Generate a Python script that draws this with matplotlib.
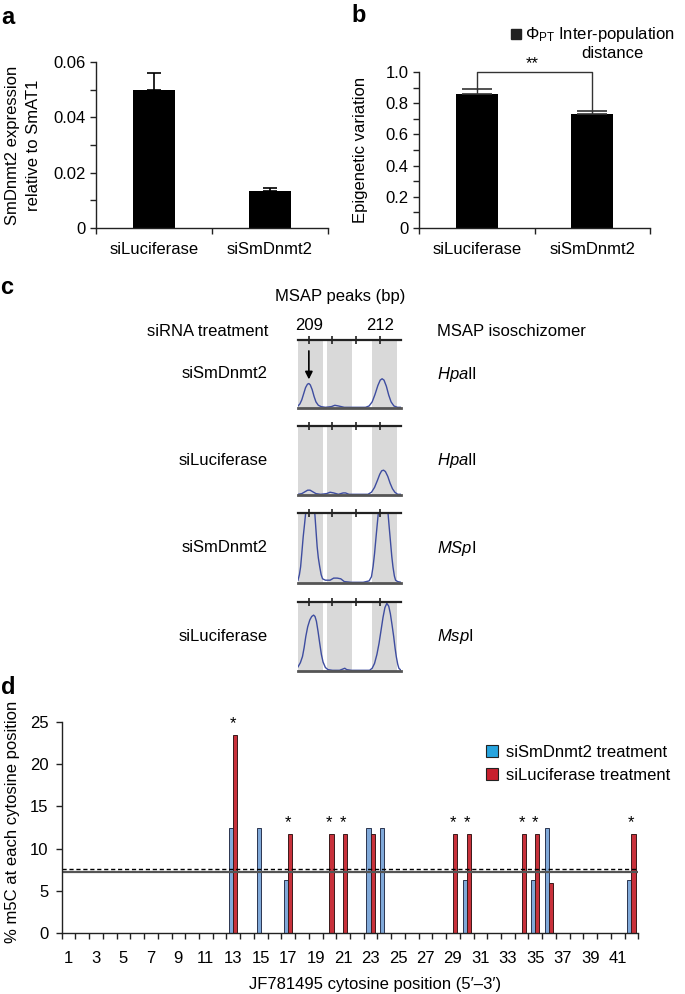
import matplotlib
matplotlib.use('Agg')
import matplotlib.pyplot as plt
import numpy as np
from matplotlib.patches import Patch
from matplotlib.lines import Line2D

plt.rcParams['font.family'] = ['Liberation Sans', 'DejaVu Sans']
plt.rcParams['mathtext.fontset'] = 'custom'
plt.rcParams['mathtext.rm'] = 'Liberation Sans'
plt.rcParams['mathtext.it'] = 'Liberation Sans:italic'
plt.rcParams['mathtext.bf'] = 'Liberation Sans:bold'

# ---------------- data ----------------
# panel a
a_groups = ['siLuciferase', 'siSmDnmt2']
a_values = [0.0500, 0.0134]
a_errors = [0.0061, 0.0010]

# panel b
b_groups = ['siLuciferase', 'siSmDnmt2']
b_values = [0.857, 0.729]
b_errors = [0.032, 0.023]

# panel c
c_treatments = ['siSmDnmt2', 'siLuciferase', 'siSmDnmt2', 'siLuciferase']
c_enzymes = [r'$\mathit{Hpa}$II', r'$\mathit{Hpa}$II', r'$\mathit{MSp}$I', r'$\mathit{Msp}$I']
c_bp_ticks = [209, 210, 211, 212]
c_bp_labels = ['209', '', '', '212']
c_bins = [(208.54, 209.60), (209.77, 210.83), (211.66, 212.72)]

t1_x = [208.54, 208.62, 208.70, 208.78, 208.86, 208.94, 209.00, 209.06, 209.14, 209.22,
        209.30, 209.40, 209.52, 209.70, 209.95, 210.10, 210.25, 210.50, 211.00, 211.40,
        211.55, 211.68, 211.80, 211.92, 212.02, 212.10, 212.18, 212.28, 212.38, 212.48,
        212.60, 212.75, 212.90]
t1_y = [0.03, 0.06, 0.12, 0.21, 0.30, 0.35, 0.36, 0.34, 0.27, 0.17,
        0.09, 0.04, 0.02, 0.01, 0.02, 0.04, 0.03, 0.01, 0.01, 0.01,
        0.03, 0.09, 0.20, 0.33, 0.41, 0.43, 0.41, 0.32, 0.19, 0.09,
        0.03, 0.01, 0.01]

t2_x = [208.54, 208.70, 208.85, 208.95, 209.05, 209.15, 209.30, 209.50, 209.75, 209.90,
        210.05, 210.25, 210.45, 210.55, 210.70, 211.00, 211.50, 211.65, 211.78, 211.90,
        212.00, 212.08, 212.16, 212.24, 212.34, 212.44, 212.54, 212.64, 212.76, 212.90]
t2_y = [0.01, 0.02, 0.05, 0.07, 0.07, 0.05, 0.02, 0.01, 0.02, 0.04,
        0.03, 0.01, 0.03, 0.03, 0.01, 0.01, 0.01, 0.04, 0.11, 0.21,
        0.30, 0.35, 0.36, 0.34, 0.27, 0.17, 0.09, 0.04, 0.01, 0.01]

t3_x = [208.54, 208.60, 208.65, 208.70, 208.76, 208.82, 208.87, 208.95, 209.05, 209.15,
        209.25, 209.30, 209.35, 209.40, 209.46, 209.52, 209.58, 209.70, 209.90, 210.05,
        210.20, 210.35, 210.50, 210.80, 211.30, 211.55, 211.65, 211.72, 211.78, 211.85,
        211.92, 212.00, 212.10, 212.20, 212.30, 212.35, 212.40, 212.46, 212.51, 212.56,
        212.62, 212.67, 212.76, 212.90]
t3_y = [0.04, 0.12, 0.23, 0.42, 0.66, 0.85, 1.02, 1.25, 1.40, 1.30,
        1.00, 0.76, 0.52, 0.36, 0.23, 0.12, 0.06, 0.04, 0.04, 0.07,
        0.07, 0.06, 0.02, 0.01, 0.01, 0.03, 0.09, 0.24, 0.42, 0.68,
        0.93, 1.20, 1.40, 1.35, 1.12, 1.00, 0.80, 0.57, 0.38, 0.23,
        0.10, 0.04, 0.02, 0.01]

t4_x = [208.54, 208.64, 208.73, 208.80, 208.87, 208.95, 209.04, 209.12, 209.20, 209.26,
        209.32, 209.39, 209.46, 209.53, 209.60, 209.70, 209.81, 210.00, 210.30, 210.45,
        210.52, 210.60, 210.80, 211.20, 211.57, 211.68, 211.78, 211.88, 211.97, 212.06,
        212.14, 212.22, 212.30, 212.38, 212.45, 212.52, 212.59, 212.65, 212.70, 212.76,
        212.81, 212.90]
t4_y = [0.06, 0.12, 0.21, 0.34, 0.50, 0.64, 0.74, 0.79, 0.81, 0.79,
        0.72, 0.57, 0.40, 0.24, 0.13, 0.05, 0.02, 0.01, 0.01, 0.03,
        0.04, 0.02, 0.01, 0.01, 0.01, 0.04, 0.11, 0.24, 0.40, 0.60,
        0.78, 0.92, 0.98, 0.94, 0.83, 0.67, 0.50, 0.33, 0.21, 0.10,
        0.04, 0.01]

# panel d
d_positions = list(range(1, 43))
d_sismdnmt2 = [0, 0, 0, 0, 0, 0, 0, 0, 0, 0, 0, 0, 12.5, 0, 12.5, 0, 6.25, 0, 0, 0,
               0, 0, 12.5, 12.5, 0, 0, 0, 0, 0, 6.25, 0, 0, 0, 0, 6.25, 12.5, 0, 0, 0, 0,
               0, 6.25]
d_siluciferase = [0, 0, 0, 0, 0, 0, 0, 0, 0, 0, 0, 0, 23.53, 0, 0, 0, 11.76, 0, 0, 11.76,
                  11.76, 0, 11.76, 0, 0, 0, 0, 0, 11.76, 11.76, 0, 0, 0, 11.76, 11.76, 5.88, 0, 0, 0, 0,
                  0, 11.76]
d_star_positions = [13, 17, 20, 21, 29, 30, 34, 35, 42]
d_mean_sismdnmt2 = 7.25
d_mean_siluciferase = 7.57
d_tick_labels = [str(i) for i in range(1, 42, 2)]

# ---------------- figure ----------------
W, H = 685, 994
fig = plt.figure(figsize=(W / 100, H / 100), dpi=100)


def ax_px(x0, y0, x1, y1):
    return fig.add_axes([x0 / W, 1 - y1 / H, (x1 - x0) / W, (y1 - y0) / H])


def ftext(x, y, s, **kw):
    return fig.text(x / W, 1 - y / H, s, **kw)


def style_bar_axes(ax):
    for s in ['top', 'right']:
        ax.spines[s].set_visible(False)
    for s in ['left', 'bottom']:
        ax.spines[s].set_color('#222222')
        ax.spines[s].set_linewidth(1.0)
    ax.tick_params(which='both', direction='out', color='#222222', width=1.0)


FS = 12

# ---- panel a ----
axa = ax_px(96, 62, 328, 228)
xa = np.arange(len(a_groups))
axa.bar(xa, a_values, width=0.37, color='black')
axa.errorbar(xa, a_values, yerr=[[0] * len(a_errors), a_errors], fmt='none',
             ecolor='black', elinewidth=1.2, capsize=5, capthick=1.2)
axa.set_xlim(-0.5, 1.5)
axa.set_ylim(0, 0.06)
axa.set_yticks([0, 0.02, 0.04, 0.06], ['0', '0.02', '0.04', '0.06'])
axa.set_yticks([0.01, 0.03, 0.05], minor=True)
axa.set_xticks(xa, a_groups)
axa.set_xticks([-0.5, 0.5, 1.5], minor=True)
style_bar_axes(axa)
axa.tick_params(axis='y', which='both', length=4.5, pad=3, labelsize=FS)
axa.tick_params(axis='x', which='major', length=0, pad=10, labelsize=FS)
axa.tick_params(axis='x', which='minor', length=4.5)
ftext(23, 145, 'SmDnmt2 expression\nrelative to SmAT1', rotation=90,
      ha='center', va='center', fontsize=FS, linespacing=1.45)
ftext(8, 18, 'a', fontsize=17, fontweight='bold', ha='center', va='center')

# ---- panel b ----
axb = ax_px(419, 72, 650, 228)
xb = np.arange(len(b_groups))
axb.bar(xb, b_values, width=0.36, color='black')
axb.errorbar(xb, b_values, yerr=[[0] * len(b_errors), b_errors], fmt='none',
             ecolor='#333333', elinewidth=1.0, capsize=10.5, capthick=1.2)
top_l = b_values[0] + b_errors[0]
top_r = b_values[1] + b_errors[1]
axb.plot([xb[0], xb[0], xb[1], xb[1]], [top_l, 1.0, 1.0, top_r], color='#333333',
         lw=1.0, clip_on=False)
axb.text(0.48, 1.003, '**', ha='center', va='bottom', fontsize=FS, clip_on=False)
axb.set_xlim(-0.5, 1.5)
axb.set_ylim(0, 1.0)
axb.set_yticks([0, 0.2, 0.4, 0.6, 0.8, 1.0], ['0', '0.2', '0.4', '0.6', '0.8', '1.0'])
axb.set_yticks([0.1, 0.3, 0.5, 0.7, 0.9], minor=True)
axb.set_xticks(xb, b_groups)
axb.set_xticks([-0.5, 0.5, 1.5], minor=True)
style_bar_axes(axb)
axb.tick_params(axis='y', which='both', length=4.5, pad=3, labelsize=FS)
axb.tick_params(axis='x', which='major', length=0, pad=10, labelsize=FS)
axb.tick_params(axis='x', which='minor', length=4.5)
ftext(360, 150, 'Epigenetic variation', rotation=90, ha='center', va='center', fontsize=FS)
ftext(359, 16, 'b', fontsize=17, fontweight='bold', ha='center', va='center')
fig.add_artist(Line2D([516 / W], [1 - 34 / H], marker='s', color='#222222',
                      markersize=7, linestyle='none', transform=fig.transFigure))
ftext(525, 34, r'$\Phi_{\mathrm{PT}}$ Inter-population', ha='left', va='center', fontsize=FS)
ftext(612, 53, 'distance', ha='center', va='center', fontsize=FS)

# ---- panel c ----
ftext(7, 288, 'c', fontsize=17, fontweight='bold', ha='center', va='center')
ftext(340, 296, 'MSAP peaks (bp)', ha='center', va='center', fontsize=FS)
ftext(268, 331, 'siRNA treatment', ha='right', va='center', fontsize=FS)
ftext(437, 331, 'MSAP isoschizomer', ha='left', va='center', fontsize=FS)

box_rows = [(340, 408), (426, 495), (513, 583), (602, 671)]
traces = [(t1_x, t1_y), (t2_x, t2_y), (t3_x, t3_y), (t4_x, t4_y)]
for i, ((y0, y1), (tx, ty)) in enumerate(zip(box_rows, traces)):
    ax = ax_px(298, y0, 401, y1)
    for lo, hi in c_bins:
        ax.axvspan(lo, hi, color='#d9d9d9', lw=0, zorder=0)
    ax.plot(tx, ty, color='#3e4da0', lw=1.0, zorder=2)
    ax.set_xlim(208.54, 212.9)
    ax.set_ylim(0, 1)
    ax.spines['left'].set_visible(False)
    ax.spines['right'].set_visible(False)
    ax.spines['top'].set_color('#222222')
    ax.spines['top'].set_linewidth(1.6)
    ax.spines['bottom'].set_color('#555555')
    ax.spines['bottom'].set_linewidth(2.0)
    ax.spines['top'].set_zorder(3)
    ax.set_yticks([])
    ax.set_xticks(c_bp_ticks, c_bp_labels if i == 0 else [''] * 4)
    ax.tick_params(axis='x', bottom=False, top=True, labelbottom=False,
                   labeltop=(i == 0), direction='inout', length=6, width=1.2,
                   color='#222222', labelsize=FS, pad=2)
    if i == 0:
        ax.annotate('', xy=(209, 0.38), xytext=(209, 0.88),
                    arrowprops=dict(arrowstyle='-|>', color='black', lw=1.2,
                                    mutation_scale=11))
    yc = (y0 + y1) / 2
    ftext(268, yc, c_treatments[i], ha='right', va='center', fontsize=FS)
    ftext(437, yc, c_enzymes[i], ha='left', va='center', fontsize=FS)

# ---- panel d ----
axd = ax_px(61.7, 722.3, 638.3, 932.7)
pos = np.array(d_positions)
axd.bar(pos - 0.15, d_sismdnmt2, width=0.3, color='#80a9d9', edgecolor='#2b3550', lw=0.7)
axd.bar(pos + 0.15, d_siluciferase, width=0.3, color='#c8313b', edgecolor='#3a1a1a', lw=0.7)
for p in d_star_positions:
    axd.text(p, d_siluciferase[p - 1] + 1.35, '*', ha='center', va='center', fontsize=12)
axd.axhline(d_mean_sismdnmt2, color='#555555', lw=1.6)
axd.axhline(d_mean_siluciferase, color='black', lw=1.0, ls=(0, (3, 2)))
axd.set_xlim(0.5, 42.5)
axd.set_ylim(0, 25)
axd.set_yticks([0, 5, 10, 15, 20, 25])
axd.set_xticks(list(range(1, 42, 2)), d_tick_labels)
axd.set_xticks(np.arange(0.5, 43, 1.0), minor=True)
style_bar_axes(axd)
axd.tick_params(axis='y', length=4.5, pad=5, labelsize=12)
axd.tick_params(axis='x', which='major', length=0, pad=13, labelsize=12)
axd.tick_params(axis='x', which='minor', length=4.5)
ftext(13, 822, '% m5C at each cytosine position', rotation=90, ha='center',
      va='center', fontsize=12)
ftext(375, 984, 'JF781495 cytosine position (5\u2032\u20133\u2032)', ha='center',
      va='center', fontsize=12)
ftext(8, 687, 'd', fontsize=17, fontweight='bold', ha='center', va='center')
handles = [Patch(facecolor='#27a4de', edgecolor='#222222', lw=0.8),
           Patch(facecolor='#c8202e', edgecolor='#222222', lw=0.8)]
axd.legend(handles, ['siSmDnmt2 treatment', 'siLuciferase treatment'],
           loc='upper left', bbox_to_anchor=(486 / W, 1 - 745 / H),
           bbox_transform=fig.transFigure, frameon=False, fontsize=12,
           handlelength=0.75, handleheight=0.75, handletextpad=0.45,
           labelspacing=0.45, borderpad=0, borderaxespad=0)

fig.savefig('out.png', dpi=100)
